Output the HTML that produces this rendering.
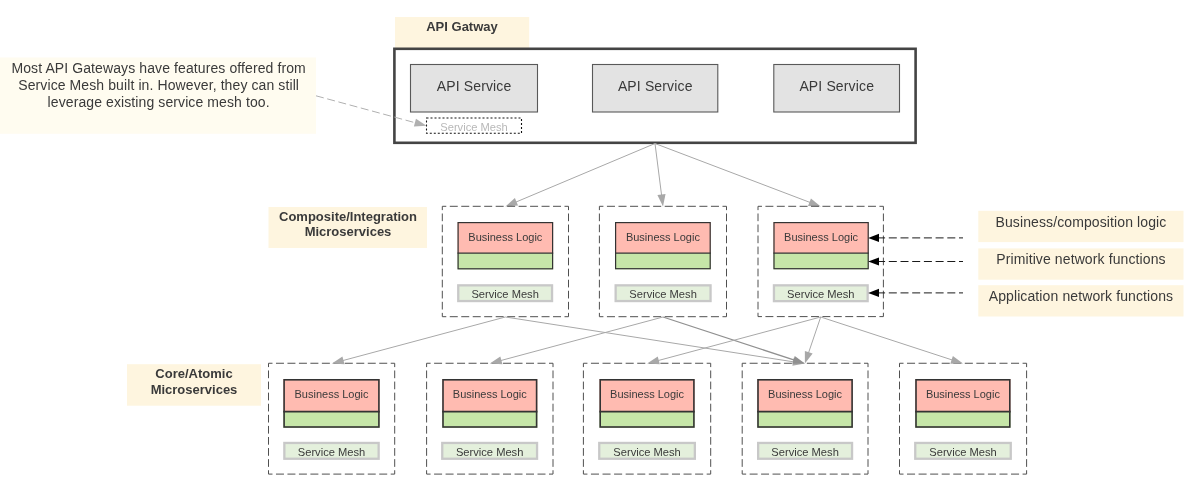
<!DOCTYPE html>
<html><head><meta charset="utf-8"><style>
html,body{margin:0;padding:0;background:#fff;width:1200px;height:499px;overflow:hidden}
svg{display:block;font-family:"Liberation Sans", sans-serif;will-change:transform}
</style></head><body>
<svg width="1200" height="499" viewBox="0 0 1200 499">
<rect x="0" y="57.5" width="316" height="76.3" fill="#fffcf0"/>
<text x="158.65" y="73.3" font-size="14" font-weight="400" fill="#3a3a3a" text-anchor="middle" letter-spacing="0.1">Most API Gateways have features offered from</text>
<text x="158.65" y="90.3" font-size="14" font-weight="400" fill="#3a3a3a" text-anchor="middle" letter-spacing="0.1">Service Mesh built in. However, they can still</text>
<text x="158.65" y="107.3" font-size="14" font-weight="400" fill="#3a3a3a" text-anchor="middle" letter-spacing="0.1">leverage existing service mesh too.</text>
<rect x="395" y="17" width="134.2" height="31" fill="#fef5df"/>
<text x="462" y="31.1" font-size="13" font-weight="700" fill="#3a3a3a" text-anchor="middle">API Gatway</text>
<rect x="394.4" y="48.8" width="521.2" height="94" fill="none" stroke="#444" stroke-width="2.6"/>
<rect x="410.5" y="64.5" width="127" height="47.5" fill="#e3e3e3" stroke="#595959" stroke-width="1.1"/>
<text x="474.07" y="90.8" font-size="14" font-weight="400" fill="#3a3a3a" text-anchor="middle" letter-spacing="0.14">API Service</text>
<rect x="592.5" y="64.5" width="125.3" height="47.5" fill="#e3e3e3" stroke="#595959" stroke-width="1.1"/>
<text x="655.22" y="90.8" font-size="14" font-weight="400" fill="#3a3a3a" text-anchor="middle" letter-spacing="0.14">API Service</text>
<rect x="773.8" y="64.5" width="125.7" height="47.5" fill="#e3e3e3" stroke="#595959" stroke-width="1.1"/>
<text x="836.72" y="90.8" font-size="14" font-weight="400" fill="#3a3a3a" text-anchor="middle" letter-spacing="0.14">API Service</text>
<rect x="426.5" y="118" width="95" height="15.3" fill="none" stroke="#111" stroke-width="1.1" stroke-dasharray="2 2"/>
<text x="474" y="130.9" font-size="11.15" font-weight="400" fill="#b8b8b8" text-anchor="middle">Service Mesh</text>
<line x1="316" y1="95.8" x2="415.88" y2="122.92" stroke="#b0b0b0" stroke-width="1" stroke-dasharray="8 3.6"/>
<polygon points="426.5,125.8 413.87,126.52 415.97,118.8" fill="#b0b0b0"/>
<line x1="655" y1="143.5" x2="515.54" y2="202.23" stroke="#a8a8a8" stroke-width="1"/>
<polygon points="505.4,206.5 514.87,198.06 518.05,205.62" fill="#a8a8a8"/>
<line x1="655" y1="143.5" x2="661.61" y2="195.49" stroke="#a8a8a8" stroke-width="1"/>
<polygon points="663,206.4 657.42,195.01 665.55,193.98" fill="#a8a8a8"/>
<line x1="655" y1="143.5" x2="810.42" y2="202.59" stroke="#a8a8a8" stroke-width="1"/>
<polygon points="820.7,206.5 808.03,206.07 810.94,198.4" fill="#a8a8a8"/>
<line x1="442.3" y1="206.3" x2="568.5" y2="206.3" stroke="#505050" stroke-width="1.0" stroke-dasharray="7.981 3.492" stroke-dashoffset="3.991"/>
<line x1="568.5" y1="206.3" x2="568.5" y2="316.7" stroke="#505050" stroke-width="1.0" stroke-dasharray="7.680 3.360" stroke-dashoffset="3.840"/>
<line x1="568.5" y1="316.7" x2="442.3" y2="316.7" stroke="#505050" stroke-width="1.0" stroke-dasharray="7.981 3.492" stroke-dashoffset="3.991"/>
<line x1="442.3" y1="316.7" x2="442.3" y2="206.3" stroke="#505050" stroke-width="1.0" stroke-dasharray="7.680 3.360" stroke-dashoffset="3.840"/>
<rect x="457.5" y="222" width="95.7" height="31.1" fill="#ffbbb1"/>
<rect x="457.5" y="253.1" width="95.7" height="16.3" fill="#c6e6a8"/>
<rect x="458.1" y="222.6" width="94.5" height="46.2" fill="none" stroke="#333" stroke-width="1.2"/>
<line x1="457.5" y1="253.1" x2="553.2" y2="253.1" stroke="#333" stroke-width="1.2"/>
<text x="505.35" y="240.5" font-size="11" font-weight="400" fill="#3a3a3a" text-anchor="middle">Business Logic</text>
<rect x="458.25" y="285.35" width="93.8" height="15.7" fill="#e4f0dc" stroke="#c8c8c8" stroke-width="2.3"/>
<text x="505.15" y="297.9" font-size="11.15" font-weight="400" fill="#3a3a3a" text-anchor="middle">Service Mesh</text>
<line x1="599.4" y1="206.3" x2="726.5" y2="206.3" stroke="#505050" stroke-width="1.0" stroke-dasharray="8.038 3.517" stroke-dashoffset="4.019"/>
<line x1="726.5" y1="206.3" x2="726.5" y2="316.7" stroke="#505050" stroke-width="1.0" stroke-dasharray="7.680 3.360" stroke-dashoffset="3.840"/>
<line x1="726.5" y1="316.7" x2="599.4" y2="316.7" stroke="#505050" stroke-width="1.0" stroke-dasharray="8.038 3.517" stroke-dashoffset="4.019"/>
<line x1="599.4" y1="316.7" x2="599.4" y2="206.3" stroke="#505050" stroke-width="1.0" stroke-dasharray="7.680 3.360" stroke-dashoffset="3.840"/>
<rect x="615" y="222" width="95.8" height="31.1" fill="#ffbbb1"/>
<rect x="615" y="253.1" width="95.8" height="16.2" fill="#c6e6a8"/>
<rect x="615.6" y="222.6" width="94.6" height="46.1" fill="none" stroke="#333" stroke-width="1.2"/>
<line x1="615" y1="253.1" x2="710.8" y2="253.1" stroke="#333" stroke-width="1.2"/>
<text x="662.9" y="240.5" font-size="11" font-weight="400" fill="#3a3a3a" text-anchor="middle">Business Logic</text>
<rect x="615.65" y="285.35" width="94.9" height="15.7" fill="#e4f0dc" stroke="#c8c8c8" stroke-width="2.3"/>
<text x="663.1" y="297.9" font-size="11.15" font-weight="400" fill="#3a3a3a" text-anchor="middle">Service Mesh</text>
<line x1="758" y1="206.3" x2="883.4" y2="206.3" stroke="#505050" stroke-width="1.0" stroke-dasharray="7.930 3.470" stroke-dashoffset="3.965"/>
<line x1="883.4" y1="206.3" x2="883.4" y2="316.6" stroke="#505050" stroke-width="1.0" stroke-dasharray="7.673 3.357" stroke-dashoffset="3.837"/>
<line x1="883.4" y1="316.6" x2="758" y2="316.6" stroke="#505050" stroke-width="1.0" stroke-dasharray="7.930 3.470" stroke-dashoffset="3.965"/>
<line x1="758" y1="316.6" x2="758" y2="206.3" stroke="#505050" stroke-width="1.0" stroke-dasharray="7.673 3.357" stroke-dashoffset="3.837"/>
<rect x="773.4" y="222" width="95.4" height="31.1" fill="#ffbbb1"/>
<rect x="773.4" y="253.1" width="95.4" height="16.2" fill="#c6e6a8"/>
<rect x="774" y="222.6" width="94.2" height="46.1" fill="none" stroke="#333" stroke-width="1.2"/>
<line x1="773.4" y1="253.1" x2="868.8" y2="253.1" stroke="#333" stroke-width="1.2"/>
<text x="821.1" y="240.5" font-size="11" font-weight="400" fill="#3a3a3a" text-anchor="middle">Business Logic</text>
<rect x="773.95" y="285.35" width="93.7" height="15.8" fill="#e4f0dc" stroke="#c8c8c8" stroke-width="2.3"/>
<text x="820.8" y="297.9" font-size="11.15" font-weight="400" fill="#3a3a3a" text-anchor="middle">Service Mesh</text>
<rect x="268.5" y="207" width="158.5" height="41" fill="#fef5df"/>
<text x="348" y="220.9" font-size="13" font-weight="700" fill="#3a3a3a" text-anchor="middle">Composite/Integration</text>
<text x="348" y="236.1" font-size="13" font-weight="700" fill="#3a3a3a" text-anchor="middle">Microservices</text>
<rect x="978.3" y="210.8" width="205.2" height="31.3" fill="#fef5df"/>
<text x="1080.96" y="226.7" font-size="14" font-weight="400" fill="#3a3a3a" text-anchor="middle" letter-spacing="0.11">Business/composition logic</text>
<rect x="978.3" y="248.4" width="205.2" height="31.3" fill="#fef5df"/>
<text x="1080.96" y="264.3" font-size="14" font-weight="400" fill="#3a3a3a" text-anchor="middle" letter-spacing="0.11">Primitive network functions</text>
<rect x="978.3" y="285.2" width="205.2" height="31.3" fill="#fef5df"/>
<text x="1080.96" y="301.1" font-size="14" font-weight="400" fill="#3a3a3a" text-anchor="middle" letter-spacing="0.11">Application network functions</text>
<line x1="963" y1="237.9" x2="879" y2="237.9" stroke="#1a1a1a" stroke-width="1" stroke-dasharray="8 3.7" stroke-dashoffset="4"/>
<polygon points="868.2,237.9 879,233.8 879,242" fill="#000"/>
<line x1="963" y1="261.5" x2="879" y2="261.5" stroke="#1a1a1a" stroke-width="1" stroke-dasharray="8 3.7" stroke-dashoffset="4"/>
<polygon points="868.2,261.5 879,257.4 879,265.6" fill="#000"/>
<line x1="963" y1="292.9" x2="879" y2="292.9" stroke="#1a1a1a" stroke-width="1" stroke-dasharray="8 3.7" stroke-dashoffset="4"/>
<polygon points="868.2,292.9 879,288.8 879,297" fill="#000"/>
<line x1="268.5" y1="363.25" x2="394.7" y2="363.25" stroke="#505050" stroke-width="1.0" stroke-dasharray="7.981 3.492" stroke-dashoffset="3.991"/>
<line x1="394.7" y1="363.25" x2="394.7" y2="474.1" stroke="#505050" stroke-width="1.0" stroke-dasharray="7.711 3.374" stroke-dashoffset="3.856"/>
<line x1="394.7" y1="474.1" x2="268.5" y2="474.1" stroke="#505050" stroke-width="1.0" stroke-dasharray="7.981 3.492" stroke-dashoffset="3.991"/>
<line x1="268.5" y1="474.1" x2="268.5" y2="363.25" stroke="#505050" stroke-width="1.0" stroke-dasharray="7.711 3.374" stroke-dashoffset="3.856"/>
<rect x="283.3" y="379" width="96.4" height="32.6" fill="#ffbbb1"/>
<rect x="283.3" y="411.6" width="96.4" height="16.2" fill="#c6e6a8"/>
<rect x="284.1" y="379.8" width="94.8" height="47.2" fill="none" stroke="#333" stroke-width="1.6"/>
<line x1="283.3" y1="411.6" x2="379.7" y2="411.6" stroke="#333" stroke-width="1.6"/>
<text x="331.5" y="397.9" font-size="11" font-weight="400" fill="#3a3a3a" text-anchor="middle">Business Logic</text>
<rect x="284.35" y="442.95" width="94.3" height="15.8" fill="#e4f0dc" stroke="#c8c8c8" stroke-width="2.3"/>
<text x="331.5" y="455.9" font-size="11.15" font-weight="400" fill="#3a3a3a" text-anchor="middle">Service Mesh</text>
<line x1="426.6" y1="363.25" x2="553" y2="363.25" stroke="#505050" stroke-width="1.0" stroke-dasharray="7.994 3.497" stroke-dashoffset="3.997"/>
<line x1="553" y1="363.25" x2="553" y2="474.1" stroke="#505050" stroke-width="1.0" stroke-dasharray="7.711 3.374" stroke-dashoffset="3.856"/>
<line x1="553" y1="474.1" x2="426.6" y2="474.1" stroke="#505050" stroke-width="1.0" stroke-dasharray="7.994 3.497" stroke-dashoffset="3.997"/>
<line x1="426.6" y1="474.1" x2="426.6" y2="363.25" stroke="#505050" stroke-width="1.0" stroke-dasharray="7.711 3.374" stroke-dashoffset="3.856"/>
<rect x="442.2" y="379" width="95.2" height="32.6" fill="#ffbbb1"/>
<rect x="442.2" y="411.6" width="95.2" height="16.2" fill="#c6e6a8"/>
<rect x="443" y="379.8" width="93.6" height="47.2" fill="none" stroke="#333" stroke-width="1.6"/>
<line x1="442.2" y1="411.6" x2="537.4" y2="411.6" stroke="#333" stroke-width="1.6"/>
<text x="489.8" y="397.9" font-size="11" font-weight="400" fill="#3a3a3a" text-anchor="middle">Business Logic</text>
<rect x="442.25" y="442.95" width="94.8" height="15.8" fill="#e4f0dc" stroke="#c8c8c8" stroke-width="2.3"/>
<text x="489.65" y="455.9" font-size="11.15" font-weight="400" fill="#3a3a3a" text-anchor="middle">Service Mesh</text>
<line x1="583.4" y1="363.25" x2="710.7" y2="363.25" stroke="#505050" stroke-width="1.0" stroke-dasharray="8.051 3.522" stroke-dashoffset="4.025"/>
<line x1="710.7" y1="363.25" x2="710.7" y2="474.1" stroke="#505050" stroke-width="1.0" stroke-dasharray="7.711 3.374" stroke-dashoffset="3.856"/>
<line x1="710.7" y1="474.1" x2="583.4" y2="474.1" stroke="#505050" stroke-width="1.0" stroke-dasharray="8.051 3.522" stroke-dashoffset="4.025"/>
<line x1="583.4" y1="474.1" x2="583.4" y2="363.25" stroke="#505050" stroke-width="1.0" stroke-dasharray="7.711 3.374" stroke-dashoffset="3.856"/>
<rect x="599.4" y="379" width="95.3" height="32.6" fill="#ffbbb1"/>
<rect x="599.4" y="411.6" width="95.3" height="16.2" fill="#c6e6a8"/>
<rect x="600.2" y="379.8" width="93.7" height="47.2" fill="none" stroke="#333" stroke-width="1.6"/>
<line x1="599.4" y1="411.6" x2="694.7" y2="411.6" stroke="#333" stroke-width="1.6"/>
<text x="647.05" y="397.9" font-size="11" font-weight="400" fill="#3a3a3a" text-anchor="middle">Business Logic</text>
<rect x="599.25" y="442.95" width="95.6" height="15.8" fill="#e4f0dc" stroke="#c8c8c8" stroke-width="2.3"/>
<text x="647.05" y="455.9" font-size="11.15" font-weight="400" fill="#3a3a3a" text-anchor="middle">Service Mesh</text>
<line x1="742.2" y1="363.25" x2="868" y2="363.25" stroke="#505050" stroke-width="1.0" stroke-dasharray="7.956 3.481" stroke-dashoffset="3.978"/>
<line x1="868" y1="363.25" x2="868" y2="474.1" stroke="#505050" stroke-width="1.0" stroke-dasharray="7.711 3.374" stroke-dashoffset="3.856"/>
<line x1="868" y1="474.1" x2="742.2" y2="474.1" stroke="#505050" stroke-width="1.0" stroke-dasharray="7.956 3.481" stroke-dashoffset="3.978"/>
<line x1="742.2" y1="474.1" x2="742.2" y2="363.25" stroke="#505050" stroke-width="1.0" stroke-dasharray="7.711 3.374" stroke-dashoffset="3.856"/>
<rect x="757.2" y="379" width="95.7" height="32.6" fill="#ffbbb1"/>
<rect x="757.2" y="411.6" width="95.7" height="16.2" fill="#c6e6a8"/>
<rect x="758" y="379.8" width="94.1" height="47.2" fill="none" stroke="#333" stroke-width="1.6"/>
<line x1="757.2" y1="411.6" x2="852.9" y2="411.6" stroke="#333" stroke-width="1.6"/>
<text x="805.05" y="397.9" font-size="11" font-weight="400" fill="#3a3a3a" text-anchor="middle">Business Logic</text>
<rect x="758.15" y="442.95" width="93.9" height="15.8" fill="#e4f0dc" stroke="#c8c8c8" stroke-width="2.3"/>
<text x="805.1" y="455.9" font-size="11.15" font-weight="400" fill="#3a3a3a" text-anchor="middle">Service Mesh</text>
<line x1="899.5" y1="363.25" x2="1026.6" y2="363.25" stroke="#505050" stroke-width="1.0" stroke-dasharray="8.038 3.517" stroke-dashoffset="4.019"/>
<line x1="1026.6" y1="363.25" x2="1026.6" y2="474.1" stroke="#505050" stroke-width="1.0" stroke-dasharray="7.711 3.374" stroke-dashoffset="3.856"/>
<line x1="1026.6" y1="474.1" x2="899.5" y2="474.1" stroke="#505050" stroke-width="1.0" stroke-dasharray="8.038 3.517" stroke-dashoffset="4.019"/>
<line x1="899.5" y1="474.1" x2="899.5" y2="363.25" stroke="#505050" stroke-width="1.0" stroke-dasharray="7.711 3.374" stroke-dashoffset="3.856"/>
<rect x="915.2" y="379" width="95.4" height="32.6" fill="#ffbbb1"/>
<rect x="915.2" y="411.6" width="95.4" height="16.2" fill="#c6e6a8"/>
<rect x="916" y="379.8" width="93.8" height="47.2" fill="none" stroke="#333" stroke-width="1.6"/>
<line x1="915.2" y1="411.6" x2="1010.6" y2="411.6" stroke="#333" stroke-width="1.6"/>
<text x="962.9" y="397.9" font-size="11" font-weight="400" fill="#3a3a3a" text-anchor="middle">Business Logic</text>
<rect x="915.25" y="442.95" width="95.5" height="15.8" fill="#e4f0dc" stroke="#c8c8c8" stroke-width="2.3"/>
<text x="963" y="455.9" font-size="11.15" font-weight="400" fill="#3a3a3a" text-anchor="middle">Service Mesh</text>
<rect x="127" y="364.2" width="134" height="41.5" fill="#fef5df"/>
<text x="194" y="377.9" font-size="13" font-weight="700" fill="#3a3a3a" text-anchor="middle">Core/Atomic</text>
<text x="194" y="393.6" font-size="13" font-weight="700" fill="#3a3a3a" text-anchor="middle">Microservices</text>
<line x1="505.4" y1="317" x2="342.53" y2="360.65" stroke="#a8a8a8" stroke-width="1"/>
<polygon points="331.9,363.5 342.43,356.43 344.55,364.35" fill="#a8a8a8"/>
<line x1="505.4" y1="317" x2="794.03" y2="361.91" stroke="#a8a8a8" stroke-width="1"/>
<polygon points="804.9,363.6 792.41,365.81 793.67,357.7" fill="#a8a8a8"/>
<line x1="663" y1="317" x2="500.42" y2="360.65" stroke="#a8a8a8" stroke-width="1"/>
<polygon points="489.8,363.5 500.33,356.43 502.45,364.35" fill="#a8a8a8"/>
<line x1="663" y1="317" x2="794.45" y2="360.17" stroke="#909090" stroke-width="1.3"/>
<polygon points="804.9,363.6 792.22,363.75 794.78,355.96" fill="#909090"/>
<line x1="820.7" y1="317" x2="657.83" y2="360.65" stroke="#a8a8a8" stroke-width="1"/>
<polygon points="647.2,363.5 657.73,356.43 659.85,364.35" fill="#a8a8a8"/>
<line x1="820.7" y1="317" x2="808.43" y2="353.18" stroke="#a8a8a8" stroke-width="1"/>
<polygon points="804.9,363.6 804.87,350.92 812.64,353.55" fill="#a8a8a8"/>
<line x1="820.7" y1="317" x2="952.54" y2="360.08" stroke="#a8a8a8" stroke-width="1"/>
<polygon points="963,363.5 950.32,363.67 952.87,355.88" fill="#a8a8a8"/>
</svg>
</body></html>
